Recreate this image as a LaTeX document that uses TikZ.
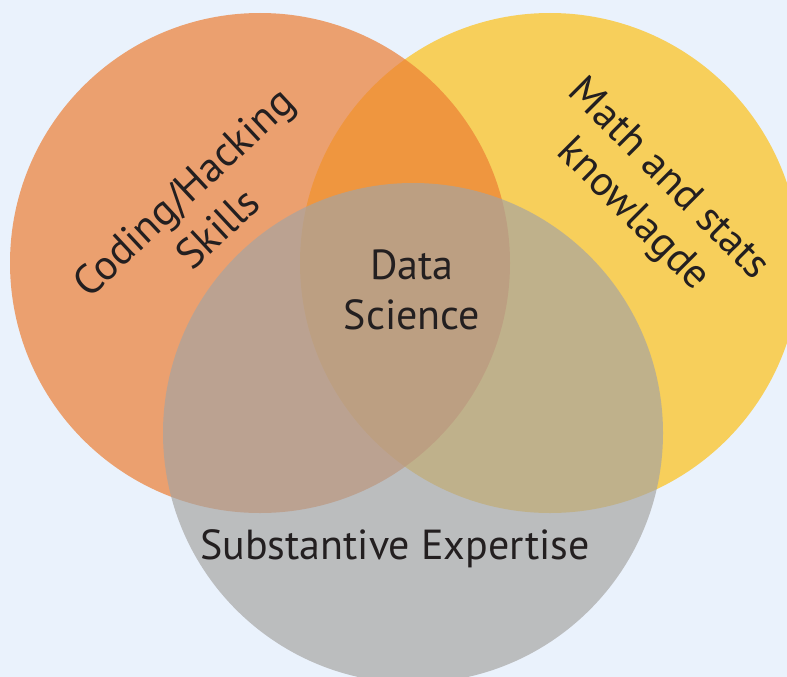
\documentclass[tikz,border=0pt]{standalone}
\usepackage{fontspec}
\setmainfont{PT Sans}
\usetikzlibrary{positioning}
\definecolor{bluebackground}{HTML}{EAF2FC}
\definecolor{yellowcircle}{HTML}{F7CF5B}
\definecolor{orangecircle}{RGB}{236,126,52}
\definecolor{greycircle}{RGB}{165,164,162}
\definecolor{labeltext}{HTML}{231F20}

\begin{document}
\begin{tikzpicture}[x=1pt,y=-1pt,
    vennlabel/.style={text=labeltext,align=center,inner sep=0pt,
      font=\fontsize{42}{50}\selectfont}]

    \useasboundingbox (0,0) rectangle (787,677);
    \fill[bluebackground] (0,0) rectangle (787,677);

    % the three sets
    \draw[fill=yellowcircle,draw=none](550,263) circle (250pt);
    \draw[fill=orangecircle,fill opacity=0.7,draw=none](260,263) circle (250pt);
    \draw[fill=greycircle,fill opacity=0.68,draw=none](413,433) circle (250pt);

    % labels
    \node[vennlabel,rotate=43] (coding) at (200,210) {Coding/Hacking\\Skills};
    \node[vennlabel,rotate=-45] (math) at (650,198) {Math and stats\\knowlagde};
    \node[vennlabel] (datasci) at (412,290) {Data\\Science};
    \node[vennlabel] (expertise) at (395,549) {Substantive Expertise};
\end{tikzpicture}
\end{document}
